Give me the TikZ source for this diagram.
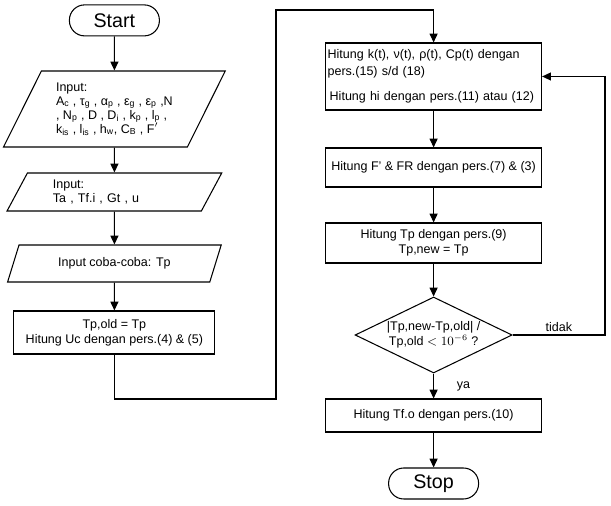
\documentclass[tikz,border=0pt]{standalone}
\usepackage{fontspec}
\setmainfont{Liberation Sans}
\usepackage{tikz}
\usetikzlibrary{arrows.meta}
\usetikzlibrary{shapes.geometric}

\begin{document}
\begin{tikzpicture}[
    font=\fontsize{8.9}{10.5}\selectfont,
    line width=0.75pt,
    arr/.style={-{Triangle[length=2.2mm, width=2mm]}},
    terminal/.style={draw, rounded corners=0.38cm, minimum width=2.25cm, minimum height=0.775cm, font=\fontsize{14}{16}\selectfont},
    inputbox/.style={draw, trapezium, trapezium left angle=60, trapezium right angle=120, trapezium stretches=true, inner sep=0pt},
    process/.style={draw, rectangle, minimum width=5.4cm, inner sep=0pt, align=center},
    decision/.style={draw, diamond, aspect=2.07, minimum width=3.925cm, minimum height=1.9cm, inner sep=0pt, align=center}
  ]
  \useasboundingbox (0, 0) rectangle (15.275, 12.65);
  \node[terminal] (start) at (2.86, 12.14) {Start};
  \node[inputbox, minimum width=5.55cm, minimum height=1.9cm, align=left, font=\fontsize{8.9}{9.9}\selectfont] (in1) at (2.86, 9.925)
    {Input:\\ A\textsubscript{c} , τ\textsubscript{g} , α\textsubscript{p} , ε\textsubscript{g} , ε\textsubscript{p} ,N\\ , N\textsubscript{p} , D , D\textsubscript{i} , k\textsubscript{p} , l\textsubscript{p} ,\\ k\textsubscript{is} , l\textsubscript{is} , h\textsubscript{w}, C\textsubscript{B} , F$'$};
  \node[inputbox, minimum width=5.375cm, minimum height=0.95cm, text width=3.075cm, align=left] (in2) at (2.86, 7.85)
    {Input:\\ Ta , Tf.i , Gt , u};
  \node[inputbox, minimum width=5.375cm, minimum height=0.925cm] (in3) at (2.86, 6.0625) {Input coba-coba: Tp};
  \node[process, minimum width=5.025cm, minimum height=1.075cm] (tpold) at (2.86, 4.3375)
    {Tp,old = Tp\\ Hitung Uc dengan pers.(4) \& (5)};
  \node[process, minimum height=1.675cm, inner xsep=0.05cm, text width=5.3cm, align=left] (hitungk) at (10.84, 10.7375)
    {Hitung k(t), ν(t), ρ(t), Cp(t) dengan\\[1.6pt] pers.(15) s/d (18)\\[7.3pt] \hspace{1.5pt}Hitung hi dengan pers.(11) atau (12)};
  \node[process, minimum height=0.975cm] (hitungf) at (10.84, 8.4625) {Hitung F' \& FR dengan pers.(7) \& (3)};
  \node[process, minimum height=1cm] (hitungtp) at (10.84, 6.575) {Hitung Tp dengan pers.(9)\\ Tp,new = Tp};
  \node[decision] (cek) at (10.84, 4.275) {|Tp,new-Tp,old| /\\ Tp,old $<10^{-6}$ ?};
  \node[process, minimum height=0.825cm] (hitungtf) at (10.84, 2.2625) {Hitung Tf.o dengan pers.(10)};
  \node[terminal] (stop) at (10.84, 0.5625) {Stop};
  \coordinate (low) at (6.9, 2.675);
  \coordinate (high) at (6.9, 12.4);
  \coordinate (back) at (15.125, 4.275);
  \draw[arr] (start) -- (in1);
  \draw[arr] (in1) -- (in2);
  \draw[arr] (in2) -- (in3);
  \draw[arr] (in3) -- (tpold);
  \draw[arr] (tpold) |- (low) -- (high) -| (hitungk);
  \draw[arr] (hitungk) -- (hitungf);
  \draw[arr] (hitungf) -- (hitungtp);
  \draw[arr] (hitungtp) -- (cek);
  \draw[arr] (cek) -- node[right, xshift=0.45cm] {ya} (hitungtf);
  \draw[arr] (hitungtf) -- (stop);
  \draw[arr] (cek.east) -- node[above, yshift=-1pt] {tidak} (back) |- (hitungk.east);
\end{tikzpicture}
\end{document}
